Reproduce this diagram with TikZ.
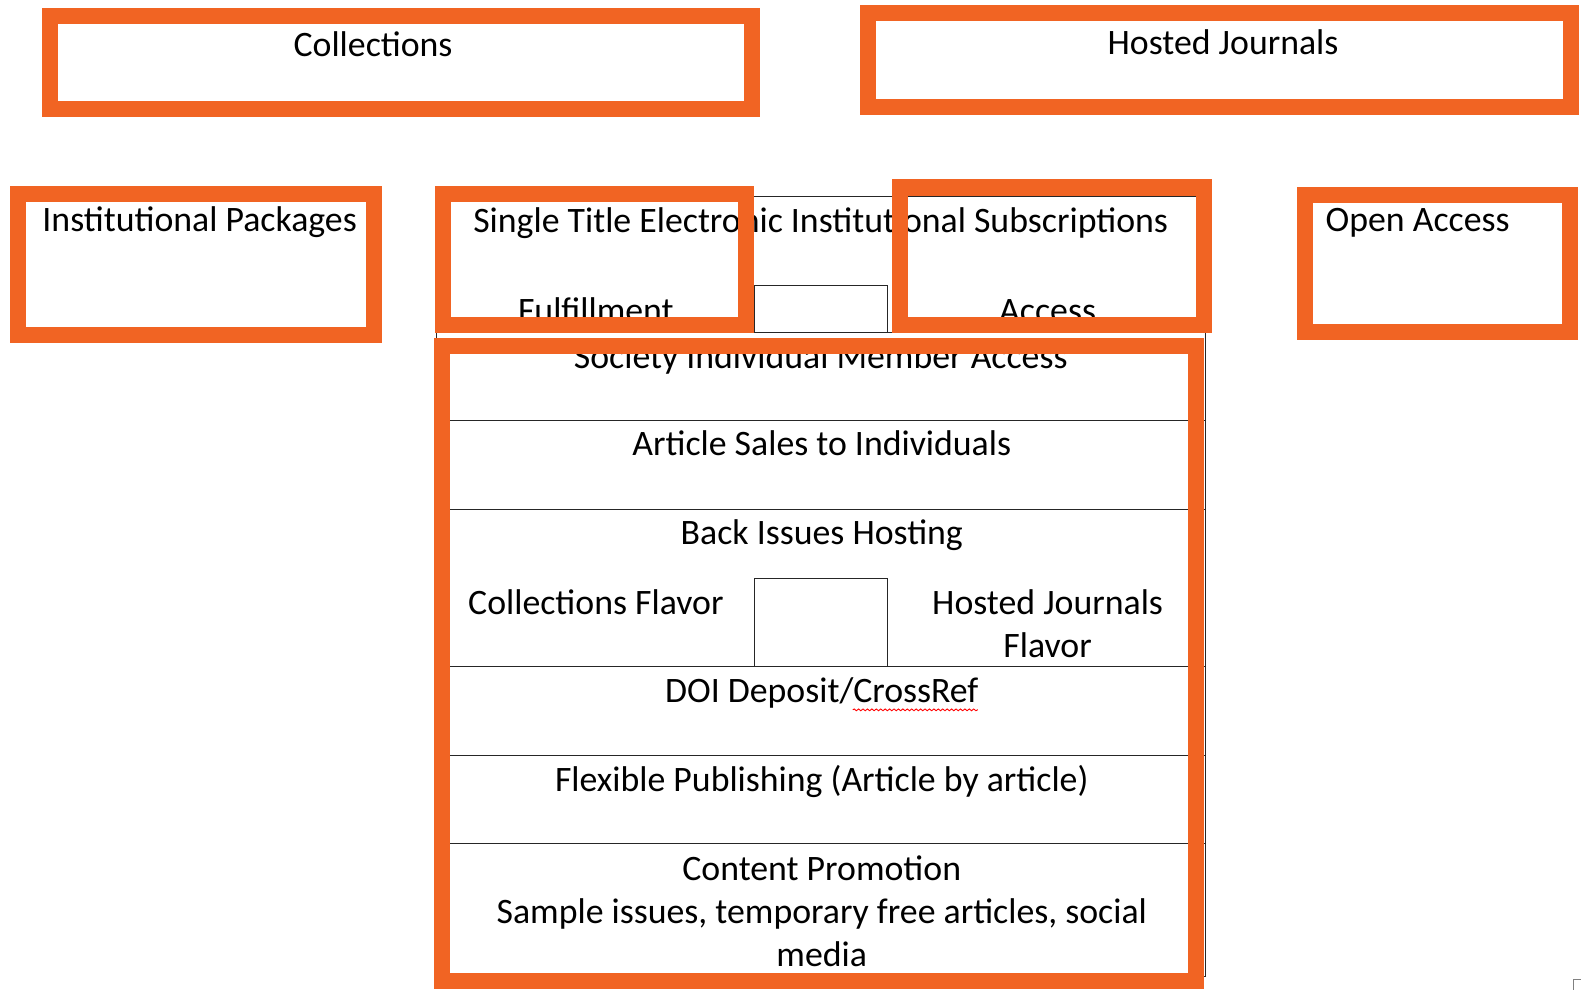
\documentclass[tikz,border=0pt]{standalone}
\usepackage{fontspec}
\setmainfont{Carlito}
\usepackage{tikz}
\usetikzlibrary{decorations.pathmorphing}
\definecolor{hiorange}{RGB}{241,100,35}
\tikzstyle{Mark}=[draw=hiorange, line width=0.32cm]
\tikzstyle{Rule}=[draw=black!85, line width=0.6pt]
\tikzstyle{Cell}=[anchor=base, inner sep=0pt, font=\fontsize{20.2}{24}\selectfont]

\begin{document}
\begin{tikzpicture}[x=0.02cm, y=-0.02cm]
    \useasboundingbox (0,0) rectangle (1568,981);

    % table grid
    \draw[Rule] (433,195) rectangle (1196,968);
    \foreach \y in {330,417,505,661,749,837}
        \draw[Rule] (433,\y) -- (1196,\y);
    \draw[Rule] (748,330) |- (880,283) -- (880,330);
    \draw[Rule] (748,661) |- (880,574) -- (880,661);

    \path
    (370,56) node[Cell] (coll) {Collections}
    (1213,54) node[Cell] (hosted) {Hosted Journals}
    (198,230) node[Cell] (instpkg) {Institutional Packages}
    (814,231) node[Cell] (single) {Single Title Electronic Institutional Subscriptions}
    (591,320) node[Cell] (fulfil) {Fulfillment}
    (1039,320) node[Cell] (access) {Access}
    (1406,230) node[Cell] (open) {Open Access}
    (814,365) node[Cell] (society) {Society Individual Member Access}
    (815,452) node[Cell] (sales) {Article Sales to Individuals}
    (815,540) node[Cell] (back) {Back Issues Hosting}
    (591,609) node[Cell] (collflav) {Collections Flavor}
    (1039,609) node[Cell] (hostflav) {Hosted Journals}
    (1039,652) node[Cell] (hostflavb) {Flavor}
    (815,697) node[Cell] (doi) {DOI Deposit/CrossRef}
    (815,785) node[Cell] (flex) {Flexible Publishing (Article by article)}
    (815,873) node[Cell] (promo) {Content Promotion}
    (815,916) node[Cell] (promob) {Sample issues, temporary free articles, social}
    (815,959) node[Cell] (promoc) {media};

    % spell check underline
    \draw[red, line width=0.5pt, decorate, decoration={snake, amplitude=0.5pt, segment length=2.5pt}]
        (doi.base east) ++(-125,7) -- ++(124,0);

    % orange highlights
    \draw[Mark] (50,16) rectangle (746,108);
    \draw[Mark] (861,13) rectangle (1558,106);
    \draw[Mark] (18,192) rectangle (371,332);
    \draw[Mark] (439,192) rectangle (740,322);
    \draw[Mark] (893,186) rectangle (1194,322);
    \draw[Mark] (1294,193) rectangle (1557,329);
    \draw[Mark] (438,343) rectangle (1186,973);

    \draw[gray, line width=0.6pt] (1561,990) |- (1575,971);
\end{tikzpicture}
\end{document}
